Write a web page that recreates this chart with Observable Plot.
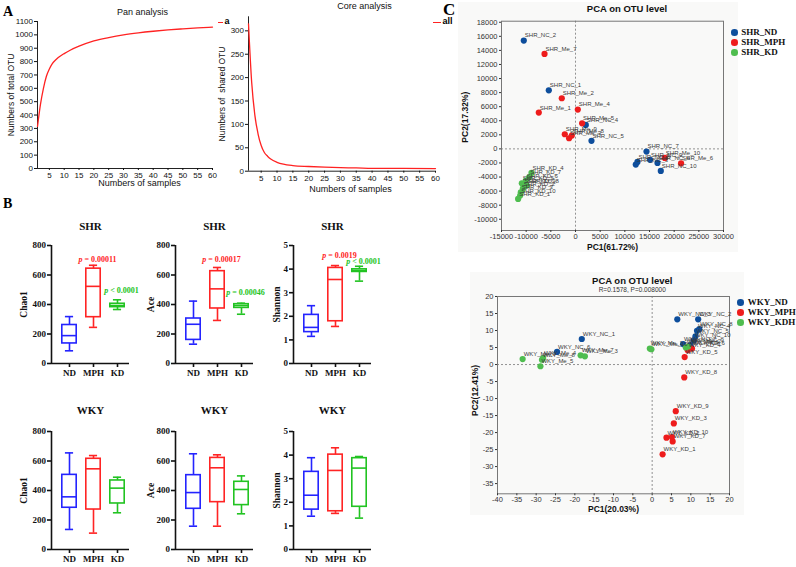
<!DOCTYPE html>
<html><head><meta charset="utf-8">
<script src="https://cdn.jsdelivr.net/npm/d3@7"></script>
<script src="https://cdn.jsdelivr.net/npm/@observablehq/plot@0.6"></script>
<style>
body{margin:0;background:#fff;}
#c{position:relative;width:796px;height:567px;overflow:hidden;font-family:"Liberation Sans",Arial,sans-serif;}
.abs{position:absolute;white-space:nowrap;line-height:1;}
.letter{font-family:"Liberation Serif","Times New Roman",serif;font-weight:bold;}
.leg{font-family:"Liberation Serif","Times New Roman",serif;font-weight:bold;font-size:9px;color:#111;}
</style></head><body><div id="c"></div>
<script>
// ---------- Panel A data ----------
const panSamples = [1,2,3,4,5,6,7,8,10,12,15,20,25,30,35,40,45,50,55,60];
const panOTU     = [315,480,600,690,745,785,810,830,860,885,915,955,980,1000,1015,1027,1037,1045,1052,1058];
const coreSamples = [1,2,3,4,5,6,7,8,10,12,15,20,25,30,35,40,50,60];
const coreOTU     = [315,190,120,80,55,40,32,26,19,15,12,10,8.5,7.5,7,6,6,5.5];
const panYTicks = [0,100,200,300,400,500,600,700,800,900,1000,1100];
const coreYTicks = [0,50,100,150,200,250,300];
const sampleTicks = [5,10,15,20,25,30,35,40,45,50,55,60];

// ---------- Panel B data: [min, q1, median, q3, max] per group ----------
const groups = ["ND","MPH","KD"];
const shrChao1   = [[86,136,189,261,318],[245,314,523,643,666],[366,382,393,405,432]];
const shrAce     = [[131,160,266,305,423],[292,373,506,626,651],[334,377,393,402,409]];
const shrShannon = [[1.15,1.33,1.53,2.06,2.45],[1.57,1.79,3.56,4.05,4.15],[3.49,3.88,3.94,3.99,4.12]];
const wkyChao1   = [[136,283,357,506,655],[111,271,547,615,637],[249,312,416,468,490]];
const wkyAce     = [[158,276,386,504,649],[158,321,554,621,642],[242,301,407,459,499]];
const wkyShannon = [[1.41,1.69,2.30,3.29,3.89],[1.53,1.62,3.35,4.02,4.31],[1.33,1.81,3.45,3.87,3.94]];
const countTicks = [0,200,400,600,800];
const shannonTicks = [0,1,2,3,4,5];
// p-value annotations: [text after "p", y position] for MPH (red) and KD (green)
const shrChao1P   = [[" = 0.00011",707],[" < 0.0001",497]];
const shrAceP     = [[" = 0.00017",707],[" = 0.00046",479]];
const shrShannonP = [[" = 0.0019",4.6],[" < 0.0001",4.33]];

// ---------- Panel C data ----------
const shrGroups = ["SHR_ND","SHR_MPH","SHR_KD"];
const shrNames = ["SHR_NC_2","SHR_NC_1","SHR_NC_4","SHR_NC_5","SHR_NC_7","SHR_NC_3","SHR_NC_8","SHR_NC_9","SHR_NC_6","SHR_NC_10",
  "SHR_Me_7","SHR_Me_2","SHR_Me_1","SHR_Me_4","SHR_Me_5","SHR_Me_9","SHR_Me_3","SHR_Me_8","SHR_Me_10","SHR_Me_6",
  "SHR_KD_4","SHR_KD_7","SHR_KD_6","SHR_KD_9","SHR_KD_8","SHR_KD_2","SHR_KD_5","SHR_KD_3","SHR_KD_10","SHR_KD_1"];
const shrPC1 = [-10480,-5410,2090,3240,14390,12220,12560,15120,16620,17290,
  -6280,-2780,-7440,470,1340,-2170,-1300,-750,18100,21400,
  -8920,-9400,-10070,-10540,-9870,-10680,-10880,-11090,-11220,-11630];
const shrPC2 = [15400,8330,3410,1140,-380,-2230,-1850,-1560,-1990,-3130,
  13500,7200,5160,5590,3640,2080,1510,1890,-1280,-2050,
  -3410,-4040,-4510,-5220,-5220,-5690,-4890,-6170,-6640,-7110];
const shrGroup = [0,0,0,0,0,0,0,0,0,0,1,1,1,1,1,1,1,1,1,1,2,2,2,2,2,2,2,2,2,2];
const shrXTicks = [-15000,-10000,-5000,0,5000,10000,15000,20000,25000,30000];
const shrYTicks = [-10000,-8000,-6000,-4000,-2000,0,2000,4000,6000,8000,10000,12000,14000,16000,18000];

const wkyGroups = ["WKY_ND","WKY_MPH","WKY_KDH"];
const wkyNames = ["WKY_NC_1","WKY_NC_6","WKY_NC_3","WKY_NC_2","WKY_NC_8","WKY_NC_4","WKY_NC_5","WKY_NC_10","WKY_NC_7","WKY_NC_9",
  "WKY_KD_4","WKY_KD_6","WKY_KD_5","WKY_KD_8","WKY_KD_9","WKY_KD_3","WKY_KD_2","WKY_KD_10","WKY_KD_7","WKY_KD_1",
  "WKY_Me_9","WKY_Me_8","WKY_Me_4","WKY_Me_5","WKY_Me_7","WKY_Me_3","WKY_Me_1","WKY_Me_10","WKY_Me_6","WKY_Me_2"];
const wkyPC1 = [-18.2,-24.6,6.5,11.9,12.2,11.6,11.2,10.8,8.0,9.9,
  9.2,10.3,8.4,8.3,6.1,5.6,3.7,5.1,5.3,2.7,
  -33.5,-28.5,-28.2,-28.9,-18.5,-17.4,-0.6,-0.2,8.7,9.3];
const wkyPC2 = [7.5,3.7,13.3,13.3,10.4,9.9,8.3,7.1,6.0,5.7,
  4.2,4.7,2.2,-3.8,-13.7,-17.3,-21.5,-21.3,-22.6,-26.4,
  1.6,1.4,1.9,-0.5,2.7,2.4,4.7,4.5,5.0,5.3];
const wkyGroup = [0,0,0,0,0,0,0,0,0,0,1,1,1,1,1,1,1,1,1,1,2,2,2,2,2,2,2,2,2,2];
const wkyXTicks = [-40,-35,-30,-25,-20,-15,-10,-5,0,5,10,15,20];
const wkyYTicks = [-35,-30,-25,-20,-15,-10,-5,0,5,10,15,20];

// ---------- helpers ----------
const C = document.getElementById("c");
function put(node, left, top){ node.style.position="absolute"; node.style.left=left+"px"; node.style.top=top+"px"; C.appendChild(node); return node; }
function html(text, left, top, cls, css){ const d=document.createElement("div"); d.className="abs "+(cls||""); d.textContent=text; if(css) d.style.cssText += css; return put(d,left,top); }
function box(left, top, w, h, css){ const d=document.createElement("div"); d.style.cssText = `width:${w}px;height:${h}px;`+css; return put(d,left,top); }
const T = d => d;
const plain = d => String(d);
const mid = {textAnchor:"middle", lineAnchor:"middle"};
const ctx = document.createElement("canvas").getContext("2d");
function textWidth(s, font){ ctx.font = font; return ctx.measureText(s).width; }

// backgrounds of PCA panels
box(458, 2, 280, 250, "background:#f9f9f8;");
box(470, 272, 274, 243, "background:#f9f9f8;");

// ---------- Panel A ----------
const RED_A = "#ff2222";
const sansStyle = {fontFamily:"Liberation Sans, Arial, sans-serif", fontSize:"8px", background:"transparent", overflow:"visible", color:"#111"};
{
  const data = panSamples.map((s,i)=>({s, v:panOTU[i]}));
  const ML=37, MT=21, MB=22, MR=8, FW=175, FH=147;
  const p = Plot.plot({
    width:ML+FW+MR, height:MT+FH+MB, marginLeft:ML, marginTop:MT, marginBottom:MB, marginRight:MR,
    style:sansStyle,
    x:{domain:[1,60]}, y:{domain:[0,1100]},
    marks:[
      Plot.ruleX([1], {stroke:"#222", strokeWidth:1}),
      Plot.ruleY([0], {stroke:"#222", strokeWidth:1}),
      Plot.axisY({ticks:panYTicks, tickFormat:plain, tickSize:3, tickPadding:1.5, label:null}),
      Plot.axisX({ticks:sampleTicks, tickFormat:plain, tickSize:2, tickPadding:2, label:null}),
      Plot.line(data, {x:"s", y:"v", stroke:RED_A, strokeWidth:1.3, curve:"monotone-x"}),
      Plot.text(["Pan analysis"], {...mid, text:T, frameAnchor:"top", dx:17.5, dy:-9.5, fontSize:9}),
      Plot.text(["Numbers of samples"], {...mid, text:T, frameAnchor:"bottom", dx:14.5, dy:15, fontSize:9}),
      Plot.text(["Numbers of total OTU"], {...mid, text:T, frameAnchor:"left", dx:-26, rotate:-90, fontSize:8.5})
    ]
  });
  put(p, 37-ML, 21-MT);
}
{
  const data = coreSamples.map((s,i)=>({s, v:coreOTU[i]}));
  const ML=30, MT=16.3, MB=23, MR=20, FW=187, FH=154.4;
  const p = Plot.plot({
    width:ML+FW+MR, height:MT+FH+MB, marginLeft:ML, marginTop:MT, marginBottom:MB, marginRight:MR,
    style:sansStyle,
    x:{domain:[1,60]}, y:{domain:[0,330]},
    marks:[
      Plot.ruleX([1], {stroke:"#222", strokeWidth:1}),
      Plot.ruleY([0], {stroke:"#222", strokeWidth:1}),
      Plot.axisY({ticks:coreYTicks, tickFormat:plain, tickSize:3, tickPadding:1.5, label:null}),
      Plot.axisX({ticks:sampleTicks, tickFormat:plain, tickSize:2, tickPadding:2, label:null}),
      Plot.line(data, {x:"s", y:"v", stroke:RED_A, strokeWidth:1.3, curve:"monotone-x"}),
      Plot.text(["Core analysis"], {...mid, text:T, frameAnchor:"top", dx:22.5, dy:-10.5, fontSize:9}),
      Plot.text(["Numbers of samples"], {...mid, text:T, frameAnchor:"bottom", dx:8.5, dy:17.5, fontSize:9}),
      Plot.text(["Numbers of  shared OTU"], {...mid, text:T, frameAnchor:"left", dx:-26, rotate:-90, fontSize:8.5})
    ]
  });
  put(p, 248-ML, 16.3-MT);
}
// legends of panel A
box(218, 21.5, 5, 0, "border-top:1.3px solid "+RED_A+";");
html("a", 224.5, 17, "", "font-size:9px;font-weight:bold;");
box(433, 21.5, 8, 0, "border-top:1.3px solid "+RED_A+";");
html("all", 442.5, 17, "", "font-size:9px;font-weight:bold;");

// ---------- Panel B ----------
const boxColors = ["#2424ff","#ff2424","#22c322"];
const serif = "Liberation Serif, Times New Roman, serif";
function pText(i, rest, v, color){
  const fs = 8;
  const pw = textWidth("p", `italic bold ${fs}px ${serif}`);
  const rw = textWidth(rest, `bold ${fs}px ${serif}`);
  const left = 4 - (pw + rw) / 2;
  const d = [{i, v}];
  return [
    Plot.text(d, {x:"i", y:"v", text:()=>"p", textAnchor:"start", dx:left, fill:color, fontSize:fs, fontStyle:"italic"}),
    Plot.text(d, {x:"i", y:"v", text:()=>rest, textAnchor:"start", dx:left+pw, fill:color, fontSize:fs})
  ];
}
function boxChart(stats, ticks, yDomain, title, ylabel, pvals, frameLeft, frameTop, titleDy, ylabelDx){
  const data = groups.map((g,i)=>({i, g, min:stats[i][0], q1:stats[i][1], med:stats[i][2], q3:stats[i][3], max:stats[i][4]}));
  const ML=38, MT=30, MB=25, MR=24, FW=78, FH=118, SW=1.6, HB=0.3, HC=0.17;
  const marks = [
    Plot.ruleX(data, {x:"i", y1:"min", y2:"max", stroke:"g", strokeWidth:SW}),
    Plot.rect(data, {x1:d=>d.i-HB, x2:d=>d.i+HB, y1:"q1", y2:"q3", fill:"white", stroke:"g", strokeWidth:SW}),
    Plot.ruleY(data, {x1:d=>d.i-HB, x2:d=>d.i+HB, y:"med", stroke:"g", strokeWidth:SW}),
    Plot.ruleY(data, {x1:d=>d.i-HC, x2:d=>d.i+HC, y:"max", stroke:"g", strokeWidth:SW}),
    Plot.ruleY(data, {x1:d=>d.i-HC, x2:d=>d.i+HC, y:"min", stroke:"g", strokeWidth:SW}),
    Plot.ruleX([-0.75], {stroke:"#111", strokeWidth:SW}),
    Plot.ruleY([0], {stroke:"#111", strokeWidth:SW}),
    Plot.axisY({ticks, tickFormat:plain, tickSize:4, tickPadding:1.5, label:null, strokeWidth:SW}),
    Plot.axisX({ticks:[0,1,2], tickFormat:i=>groups[i], tickSize:4, tickPadding:2.5, label:null, strokeWidth:SW}),
    Plot.text([title], {...mid, text:T, frameAnchor:"top", dy:titleDy, fontSize:11}),
    Plot.text([ylabel], {...mid, text:T, frameAnchor:"left", dx:ylabelDx, rotate:-90, fontSize:9.5})
  ];
  if (pvals){
    marks.push(...pText(1, pvals[0][0], pvals[0][1], boxColors[1]));
    marks.push(...pText(2, pvals[1][0], pvals[1][1], boxColors[2]));
  }
  const p = Plot.plot({
    width:ML+FW+MR, height:MT+FH+MB, marginLeft:ML, marginTop:MT, marginBottom:MB, marginRight:MR,
    style:{fontFamily:serif, fontSize:"9px", fontWeight:"bold", background:"transparent", overflow:"visible", color:"#111"},
    x:{domain:[-0.75, 2.5]},
    y:{domain:yDomain},
    color:{domain:groups, range:boxColors},
    marks
  });
  put(p, frameLeft-ML, frameTop-MT);
}
boxChart(shrChao1, countTicks, [0,800], "SHR", "Chao1", shrChao1P, 51, 245.3, -19.3, -28);
boxChart(shrAce, countTicks, [0,800], "SHR", "Ace", shrAceP, 175, 245.3, -19.3, -25);
boxChart(shrShannon, shannonTicks, [0,5], "SHR", "Shannon", shrShannonP, 293, 245.3, -19.3, -17);
boxChart(wkyChao1, countTicks, [0,800], "WKY", "Chao1", null, 51, 431, -21, -28);
boxChart(wkyAce, countTicks, [0,800], "WKY", "Ace", null, 175, 431, -21, -25);
boxChart(wkyShannon, shannonTicks, [0,5], "WKY", "Shannon", null, 293, 431, -21, -17);

// ---------- Panel C ----------
const pcaColors = ["#0e4e9c","#ee1c1c","#4fbd4f"];
function pcaChart(o){
  const pts = o.names.map((n,i)=>({n, x:o.pc1[i], y:o.pc2[i], g:o.groupNames[o.grp[i]]}));
  const ML=42, MT=o.MT, MB=22, MR=10;
  const marks = [
    Plot.ruleX([0], {stroke:"#777", strokeDasharray:"2,2", strokeWidth:0.8}),
    Plot.ruleY([0], {stroke:"#777", strokeDasharray:"2,2", strokeWidth:0.8}),
    Plot.frame({stroke:"#777", strokeWidth:1}),
    Plot.axisX({ticks:o.xTicks, tickFormat:plain, tickSize:2, tickPadding:1, label:null, fill:"#333"}),
    Plot.axisY({ticks:o.yTicks, tickFormat:plain, tickSize:2, tickPadding:2, label:null, fill:"#333"}),
    Plot.dot(pts, {x:"x", y:"y", fill:"g", r:3.1}),
    Plot.text(pts, {x:"x", y:"y", text:"n", dx:1, dy:-5, textAnchor:"start", fontSize:6, fill:"#3a3a3a"}),
    Plot.text([o.title], {...mid, text:T, frameAnchor:"top", dx:o.titleDx, dy:o.titleDy, fontSize:9.5, fontWeight:"bold", fill:"#111"}),
    Plot.text([o.xlab], {...mid, text:T, frameAnchor:"bottom", dy:o.xlabDy, fontSize:8.5, fontWeight:"bold", fill:"#111"}),
    Plot.text([o.ylab], {...mid, text:T, frameAnchor:"left", dx:o.ylabDx, dy:o.ylabDy, rotate:-90, fontSize:8.5, fontWeight:"bold", fill:"#111"})
  ];
  if (o.subtitle) marks.push(Plot.text([o.subtitle], {...mid, text:T, frameAnchor:"top", dx:o.titleDx, dy:o.subDy, fontSize:6.5, fill:"#333"}));
  const p = Plot.plot({
    width:ML+o.FW+MR, height:MT+o.FH+MB, marginLeft:ML, marginTop:MT, marginBottom:MB, marginRight:MR,
    style:{fontFamily:"Liberation Sans, Arial, sans-serif", fontSize:"7.5px", background:"transparent", overflow:"visible", color:"#333"},
    x:{domain:o.xDomain}, y:{domain:o.yDomain},
    color:{domain:o.groupNames, range:pcaColors},
    marks
  });
  put(p, o.frameLeft-ML, o.frameTop-MT);
  o.groupNames.forEach((g,i)=>{
    box(o.legX-3.3, o.legY+i*10-3.3, 6.6, 6.6, "border-radius:50%;background:"+pcaColors[i]+";");
    html(g, o.legX+7, o.legY+i*10-4.8, "leg");
  });
}
pcaChart({names:shrNames, pc1:shrPC1, pc2:shrPC2, grp:shrGroup, groupNames:shrGroups,
  xDomain:[-15000,30000], yDomain:[-11600,18150], xTicks:shrXTicks, yTicks:shrYTicks,
  frameLeft:500.7, frameTop:20.7, FW:222, FH:209.3, MT:20.7,
  title:"PCA on OTU level", titleDx:14.5, titleDy:-12.4,
  xlab:"PC1(61.72%)", xlabDy:16.7, ylab:"PC2(17.32%)", ylabDx:-36.7, ylabDy:-8.7,
  legX:734.3, legY:32.3});
pcaChart({names:wkyNames, pc1:wkyPC1, pc2:wkyPC2, grp:wkyGroup, groupNames:wkyGroups,
  xDomain:[-40,20], yDomain:[-38,20], xTicks:wkyXTicks, yTicks:wkyYTicks,
  frameLeft:497.3, frameTop:296, FW:232, FH:197.3, MT:30,
  title:"PCA on OTU level", subtitle:"R=0.1578, P=0.008000", titleDx:18.7, titleDy:-16, subDy:-6.7,
  xlab:"PC1(20.03%)", xlabDy:15, ylab:"PC2(12.41%)", ylabDx:-22.3, ylabDy:-4.7,
  legX:740.7, legY:302.3});

// ---------- panel letters ----------
html("A", 3, 4.5, "letter", "font-size:14px;");
html("B", 3, 196.5, "letter", "font-size:14px;");
html("C", 443, 0.5, "letter", "font-size:17px;");
</script></body></html>
